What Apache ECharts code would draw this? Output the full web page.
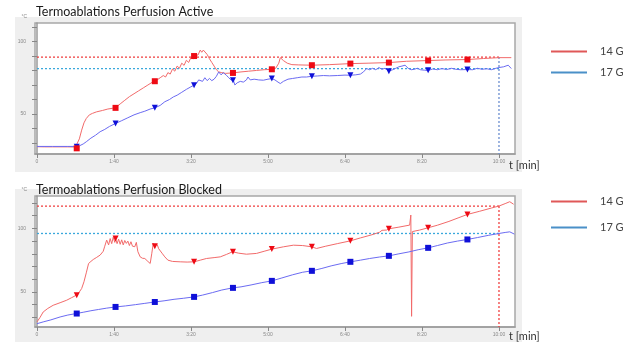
<!DOCTYPE html>
<html><head><meta charset="utf-8">
<script src="https://cdn.jsdelivr.net/npm/echarts@6/dist/echarts.min.js"></script>
<style>html,body{margin:0;padding:0;background:#fff}#c{width:635px;height:342px}</style>
</head><body><div id="c"></div>
<script>
// time in seconds, temperature in °C
var xTicks = [0, 100, 200, 300, 400, 500, 600];
var xTickLabels = ['0', '1:40', '3:20', '5:00', '6:40', '8:20', '10:00'];
var markerTimes = [51.6, 102, 153, 204, 254.5, 305, 357, 407, 457, 508, 559];

// Chart 1: Perfusion Active
var activeRed = [[0,27.6],[10,27.5],[20,27.5],[30,27.5],[40,27.5],[50,27.4],[52,27],[55,33],[58,39],[61,44],[64,47],[68,49.5],[72,50.5],[77,51.5],[85,52.5],[92,53.5],[98,54],[102,54.5],[108,57],[114,59.5],[120,62],[126,64],[132,66],[138,68],[144,70],[150,72],[156,73.5],[160,75],[164,76.5],[167,75.5],[170,78.5],[173,77.5],[176,81],[179,79.5],[182,83],[185,81.5],[188,85],[191,83.5],[194,87],[197,85.5],[200,89],[203,88],[206,91],[209,90.5],[212,94],[214,92.5],[216,94],[218,93.5],[221,91],[224,88],[227,85.5],[230,83],[233,80.5],[236,79],[240,78.5],[245,78],[254,78.3],[265,79],[275,79.5],[285,80],[295,80.5],[305,80.8],[310,81.5],[314,85],[316,88.8],[320,86.8],[325,85],[331,84],[340,83.8],[357,83.6],[380,84],[407,84.7],[430,85],[457,85.4],[480,86.3],[508,86.8],[530,87.2],[559,87.5],[580,88.2],[600,88.8],[616,88.8]];
var activeBlue = [[0,27.8],[20,27.8],[40,27.8],[50,27.8],[55,28.2],[60,29.5],[64,31],[70,33.5],[76,35.5],[82,37.9],[88,39.5],[94,41.5],[102,43.6],[110,45.5],[118,47.5],[126,49.5],[134,51],[140,52],[147,53.5],[153,54.3],[160,56],[166,58.5],[172,60],[177,61.8],[182,63],[188,65],[194,67],[199,68.5],[204,69.9],[207,71],[210,73.5],[212,74.5],[215,72.5],[218,75],[221,73],[224,74.5],[227,73],[230,74],[233,76],[236,79],[239,77],[242,78.5],[246,76.7],[249,75],[252,73.5],[255,73.3],[257,70],[260,71.5],[264,72.5],[268,72],[272,73.5],[274,75.5],[277,73.5],[282,74],[288,73.5],[294,73.3],[300,74],[305,74.4],[309,73.5],[313,72],[316,71],[320,72.5],[326,74],[332,74.5],[338,75],[344,75.5],[350,75.5],[357,76],[364,76.2],[372,76.5],[380,76.3],[390,76.5],[400,76.8],[407,76.7],[414,77],[420,77.5],[424,79],[428,81.3],[432,80.5],[436,81.5],[440,80.5],[444,82],[448,80.8],[452,81.5],[457,79.5],[462,80.5],[466,81.5],[470,82.5],[474,83],[478,83.6],[482,81.5],[486,80.5],[490,80.8],[494,81.5],[498,80.5],[503,80.2],[508,80],[514,81],[520,80.5],[526,81.3],[532,80.6],[538,81.5],[544,80.8],[550,80.5],[559,80.6],[566,80.5],[572,81.5],[578,80.8],[584,81.2],[590,80.5],[596,81.5],[600,82],[606,82.5],[612,83.6],[616,81.3]];
var activeRedMarkers = [26.5,54.3,72.6,89.9,78.3,80.8,83.6,84.7,85.4,86.8,87.5];
var activeBlueMarkers = [27.5,43.6,54.3,69.9,73.3,74.4,76,76.7,79.5,80.1,80.6];
var activeRedLimit = 89.2, activeBlueLimit = 81.3;

// Chart 2: Perfusion Blocked
var blockedRed = [[0,26.4],[4,30],[8,34.2],[14,37],[21,39.5],[30,41.5],[38.6,43.5],[45,45.5],[51,47.4],[55,50],[58,52.7],[61,58],[64,65],[67,72.4],[70,74],[73,75.5],[77,77],[82,79],[86,82],[88,86],[90.5,90.8],[93,87],[95,92],[97,88],[99,93],[101,89],[102,92.1],[104,88],[106,91.5],[108,87.5],[110,91],[112,87],[114,90.5],[116,88.2],[118,90],[120,86.5],[122,89.5],[124,86],[127,85.6],[129,89],[131,81.7],[134,77.6],[137,76.5],[140,76.3],[144,74],[147,72.4],[149,80],[151,88.2],[153,86],[156,87.5],[158,84],[160,84.2],[163,80],[166,77.6],[170,75],[176,74],[186,73.7],[195,73.5],[204,73.7],[212,75],[220,76.3],[230,77],[238,77.6],[246,79.5],[254,81.6],[262,80.5],[272,79.7],[285,80.3],[295,82],[305,83.7],[320,85.5],[333,86.8],[345,86.5],[357,85.5],[363,84.2],[375,86],[390,88],[407,90.2],[420,92.5],[435,95],[445,97],[448,98.5],[454,98.7],[457,99.7],[470,101],[484,102.6],[485.5,110.5],[486.5,30.8],[487.5,97.5],[490,98],[497,98.7],[508,100.5],[520,102.5],[535,105.5],[548,108.5],[559,111],[575,113.5],[590,116],[600,117.6],[608,119.5],[614,121],[619,119]];
var blockedBlue = [[0,25],[8,26.4],[18,28],[30,30.3],[40,31.8],[51,33],[60,34],[70,35.2],[80,36.2],[90,37.2],[102,38.2],[115,39],[128,40],[140,41],[153,42.1],[165,43],[178,44.2],[190,45],[204,46.1],[215,47.5],[228,49.5],[240,51.5],[254,53.2],[265,54],[278,55.5],[292,57.3],[305,58.7],[318,61],[332,63.5],[345,65.5],[357,66.6],[370,68.5],[382,70.5],[395,72.3],[407,73.7],[420,75],[432,76.3],[445,77.5],[457,78.4],[470,80],[483,81.5],[495,83.2],[508,84.7],[520,86.5],[533,88.5],[546,90],[559,91.3],[572,92.8],[586,94.5],[600,96],[608,96.8],[614,97.3],[620,95.5]];
var blockedRedMarkers = [47.4,92.1,86,73.7,81.6,83.7,85.5,90.2,99.7,100.5,111];
var blockedBlueMarkers = [33,38.2,42.1,46.1,53.2,58.7,66.6,73.7,78.4,84.7,91.3];
var blockedRedLimit = 117.6, blockedBlueLimit = 96;
var limitTime = 600;

var RED_LINE = '#f26a6a', BLUE_LINE = '#6b6bf2';
var RED_MK = '#ee0a14', BLUE_MK = '#0f10d8';
var RED_DASH = '#f03c3c', BLUE_DASH = '#3aa8dc';

function zip(ts, vs){ return ts.map(function(t,i){ return [t, vs[i]]; }); }
function fmt(v){ var i = xTicks.indexOf(v); return i >= 0 ? xTickLabels[i] : ''; }

var yMin = [22.6, 22.4], yMax = [112.6, 125.5];

function xAxis(g){
  return { type:'value', gridIndex:g, min:-2.6, max:620.8,
    axisLine:{show:true, lineStyle:{color:'#9a9a9a', width:1.5}},
    axisTick:{show:true, customValues:xTicks, length:4, lineStyle:{color:'#888'}},
    axisLabel:{show:true, customValues:xTicks, formatter:fmt, fontSize:5, color:'#888', margin:5},
    splitLine:{show:false} };
}
function yAxis(g, ticks){
  return { type:'value', gridIndex:g, min:yMin[g], max:yMax[g],
    name:'°C', nameLocation:'end', nameGap:4,
    nameTextStyle:{fontSize:5, color:'#888', align:'right', padding:[0,10,0,0]},
    axisLine:{show:true, lineStyle:{color:'#9a9a9a', width:1.5}},
    axisTick:{show:true, customValues:ticks, length:5, lineStyle:{color:'#888'}},
    axisLabel:{show:true, customValues:[50,100], fontSize:5, color:'#888', margin:9},
    splitLine:{show:false} };
}
function dash(color){ return {color:color, type:[2,2], width:1.3, opacity:1}; }
// threshold lines drawn as their own line series (dashed)
function hLimitSeries(name, g, thr, color){
  return {name:name, type:'line', xAxisIndex:g, yAxisIndex:g, data:[[0,thr],[limitTime,thr]],
    showSymbol:false, silent:true, lineStyle:dash(color), itemStyle:{color:color}, z:3};
}
function vLimitSeries(name, g, top, color){
  return {name:name, type:'line', xAxisIndex:g, yAxisIndex:g, data:[[limitTime,top],[limitTime,yMin[g]]],
    showSymbol:false, silent:true, lineStyle:dash(color), itemStyle:{color:color}, z:3};
}

var titleFont = {fontFamily:'Lato', fontSize:12.5, fontWeight:'normal', color:'#1a1a1a'};
var tFont = {fontFamily:'Lato', fontSize:11, fontWeight:'normal', color:'#333'};
var legendData = [{name:'14 G', itemStyle:{color:'#e05858'}},{name:'17 G', itemStyle:{color:'#4a90c8'}}];

var option = {
  animation:false,
  backgroundColor:'#fff',
  graphic:[
    {type:'rect', z:-10, shape:{x:15,y:17,width:507,height:155}, style:{fill:'#efefef'}},
    {type:'rect', z:-10, shape:{x:15,y:189,width:507,height:153}, style:{fill:'#efefef'}}
  ],
  title:[
    {text:'Termoablations Perfusion Active', left:36, top:5, padding:0, textStyle:titleFont},
    {text:'Termoablations Perfusion Blocked', left:36, top:183, padding:0, textStyle:titleFont},
    {text:'t [min]', left:509, top:160, padding:0, textStyle:tFont},
    {text:'t [min]', left:509, top:331, padding:0, textStyle:tFont}
  ],
  legend:[
    {orient:'vertical', left:551, top:46, padding:0, itemWidth:36, itemHeight:2, itemGap:10, icon:'rect',
     textStyle:{fontFamily:'Lato', fontSize:11, color:'#444', padding:[0,0,0,8]}, data:legendData},
    {orient:'vertical', left:551, top:196, padding:0, itemWidth:36, itemHeight:2, itemGap:15, icon:'rect',
     textStyle:{fontFamily:'Lato', fontSize:11, color:'#444', padding:[0,0,0,8]}, data:legendData}
  ],
  grid:[
    {left:35, top:23, width:480, height:131, show:true, backgroundColor:'#fff', borderColor:'#a8a8a8', borderWidth:1.5},
    {left:35, top:196, width:480, height:131, show:true, backgroundColor:'#fff', borderColor:'#a8a8a8', borderWidth:1.5}
  ],
  xAxis:[xAxis(0), xAxis(1)],
  yAxis:[yAxis(0,[30,40,50,60,70,80,90,100,110]), yAxis(1,[30,40,50,60,70,80,90,100,110,120])],
  series:[
    hLimitSeries('14 G', 0, activeRedLimit, RED_DASH),
    hLimitSeries('17 G', 0, activeBlueLimit, BLUE_DASH),
    vLimitSeries('17 G', 0, activeRedLimit, '#6a8ed0'),
    {name:'14 G', type:'line', xAxisIndex:0, yAxisIndex:0, data:activeRed, showSymbol:false, lineStyle:{color:RED_LINE, width:1}, itemStyle:{color:RED_LINE}, z:4},
    {name:'17 G', type:'line', xAxisIndex:0, yAxisIndex:0, data:activeBlue, showSymbol:false, lineStyle:{color:BLUE_LINE, width:1}, itemStyle:{color:BLUE_LINE}, z:4},
    {name:'17 G', type:'scatter', xAxisIndex:0, yAxisIndex:0, data:zip(markerTimes, activeBlueMarkers), symbol:'triangle', symbolRotate:180, symbolSize:6, itemStyle:{color:BLUE_MK, opacity:1}, z:5},
    {name:'14 G', type:'scatter', xAxisIndex:0, yAxisIndex:0, data:zip(markerTimes, activeRedMarkers), symbol:'rect', symbolSize:6, itemStyle:{color:RED_MK, opacity:1}, z:5},

    hLimitSeries('14 G', 1, blockedRedLimit, RED_DASH),
    hLimitSeries('17 G', 1, blockedBlueLimit, BLUE_DASH),
    vLimitSeries('14 G', 1, blockedRedLimit, RED_DASH),
    {name:'14 G', type:'line', xAxisIndex:1, yAxisIndex:1, data:blockedRed, showSymbol:false, lineStyle:{color:RED_LINE, width:1}, itemStyle:{color:RED_LINE}, z:4},
    {name:'17 G', type:'line', xAxisIndex:1, yAxisIndex:1, data:blockedBlue, showSymbol:false, lineStyle:{color:BLUE_LINE, width:1}, itemStyle:{color:BLUE_LINE}, z:4},
    {name:'14 G', type:'scatter', xAxisIndex:1, yAxisIndex:1, data:zip(markerTimes, blockedRedMarkers), symbol:'triangle', symbolRotate:180, symbolSize:6, itemStyle:{color:RED_MK, opacity:1}, z:5},
    {name:'17 G', type:'scatter', xAxisIndex:1, yAxisIndex:1, data:zip(markerTimes, blockedBlueMarkers), symbol:'rect', symbolSize:6, itemStyle:{color:BLUE_MK, opacity:1}, z:5}
  ]
};
var chart = echarts.init(document.getElementById('c'), null, {renderer:'canvas'});
chart.setOption(option);
</script></body></html>
